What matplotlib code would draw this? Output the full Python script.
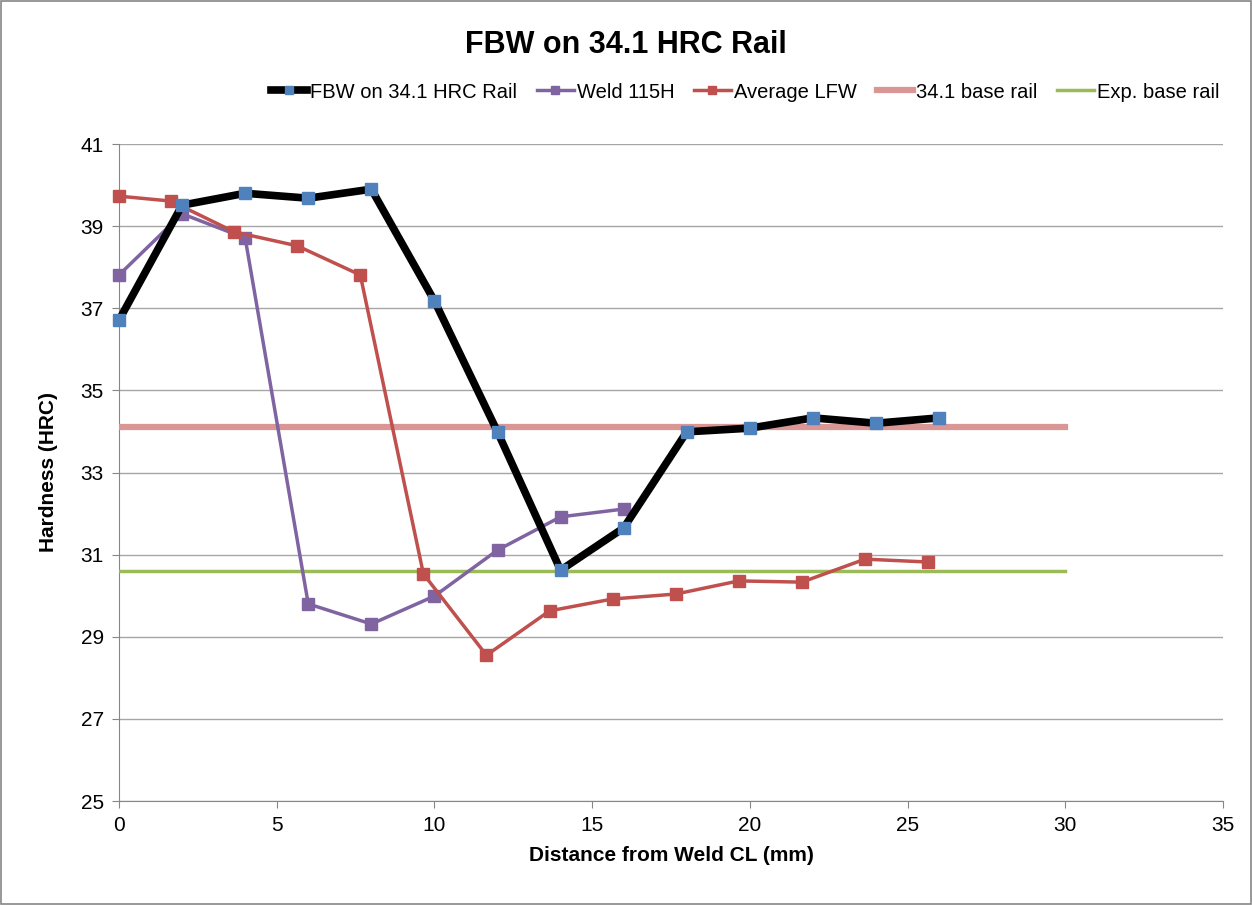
import numpy as np
import matplotlib.pyplot as plt

plt.rcParams['font.family'] = ['Liberation Sans', 'DejaVu Sans']

# --- data ---
fbw_x = [0, 2, 4, 6, 8, 10, 12, 14, 16, 18, 20, 22, 24, 26]
fbw_y = [36.71, 39.51, 39.80, 39.68, 39.90, 37.18, 33.99, 30.62, 31.65, 33.99, 34.08, 34.33, 34.20, 34.33]

weld_x = [0, 2, 4, 6, 8, 10, 12, 14, 16]
weld_y = [37.81, 39.30, 38.71, 29.80, 29.31, 29.99, 31.11, 31.92, 32.11]

lfw_x = [0, 1.65, 3.65, 5.65, 7.65, 9.65, 11.65, 13.65, 15.65, 17.65, 19.65, 21.65, 23.65, 25.65]
lfw_y = [39.73, 39.61, 38.86, 38.52, 37.81, 30.53, 28.55, 29.63, 29.92, 30.04, 30.36, 30.33, 30.89, 30.82]

base_x = [0, 30]
base_y = [34.1, 34.1]
exp_x = [0, 30]
exp_y = [30.6, 30.6]

fig = plt.figure(figsize=(12.52, 9.05), dpi=100)
ax = fig.add_axes([119 / 1252, 1 - 801 / 905, (1223 - 119) / 1252, (801 - 144) / 905])

ax.plot(fbw_x, fbw_y, color='black', lw=5.5, marker='s', ms=8,
        mfc='#4F81BD', mec='#4F81BD', label='FBW on 34.1 HRC Rail', zorder=5, clip_on=False)
ax.plot(weld_x, weld_y, color='#8064A2', lw=2.5, marker='s', ms=8,
        mfc='#8064A2', mec='#8064A2', label='Weld 115H', zorder=4, clip_on=False)
ax.plot(lfw_x, lfw_y, color='#C0504D', lw=2.5, marker='s', ms=8,
        mfc='#C0504D', mec='#C0504D', label='Average LFW', zorder=4, clip_on=False)
ax.plot(base_x, base_y, color='#D99694', lw=4.5, label='34.1 base rail', zorder=3)
ax.plot(exp_x, exp_y, color='#9BBB59', lw=2.5, label='Exp. base rail', zorder=3)

ax.set_xlim(0, 35)
ax.set_ylim(25, 41)
ax.set_xticks(np.arange(0, 36, 5))
ax.set_yticks(np.arange(25, 42, 2))
ax.tick_params(labelsize=15, length=5, color='#868686', pad=6)
ax.grid(axis='y', color='#A6A6A6', lw=1)
ax.set_axisbelow(True)
for s in ['top', 'right']:
    ax.spines[s].set_visible(False)
for s in ['left', 'bottom']:
    ax.spines[s].set_color('#868686')

ax.set_xlabel('Distance from Weld CL (mm)', fontsize=15, fontweight='bold', labelpad=8)
ax.set_ylabel('Hardness (HRC)', fontsize=15, fontweight='bold', labelpad=16)

fig.text(0.5, 1 - 45 / 905, 'FBW on 34.1 HRC Rail', fontsize=22, fontweight='bold',
         ha='center', va='center')
fig.legend(loc='center', bbox_to_anchor=(745 / 1252, 1 - 92 / 905), ncol=5, frameon=False,
           fontsize=14.5, handlelength=1.8, handletextpad=0.15, columnspacing=1.0, markerscale=0.8)

fig.patches.append(plt.Rectangle((0.001, 0.001), 0.998, 0.998, transform=fig.transFigure,
                                 fill=False, edgecolor='#868686', lw=1.2))

fig.savefig('out.png', dpi=100)
